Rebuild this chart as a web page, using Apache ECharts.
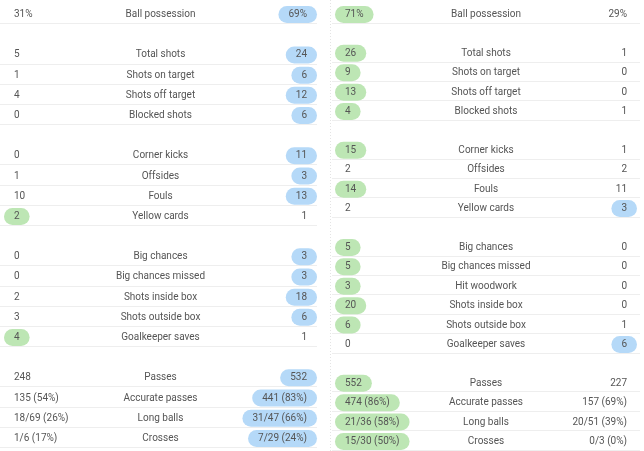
<!DOCTYPE html>
<html><head><meta charset="utf-8">
<script src="https://cdn.jsdelivr.net/npm/echarts@6/dist/echarts.min.js"></script>
<style>html,body{margin:0;padding:0;background:#fff}#c{width:644px;height:451px}</style>
</head><body><div id="c"></div>
<script>
// ---- Left match ----
const leftStats = ['Ball possession','','Total shots','Shots on target','Shots off target','Blocked shots','',
  'Corner kicks','Offsides','Fouls','Yellow cards','',
  'Big chances','Big chances missed','Shots inside box','Shots outside box','Goalkeeper saves','',
  'Passes','Accurate passes','Long balls','Crosses'];
const leftHome = ['31%','','5','1','4','0','','0','1','10','2','','0','0','2','3','4','','248','135 (54%)','18/69 (26%)','1/6 (17%)'];
const leftAway = ['69%','','24','6','12','6','','11','3','13','1','','3','3','18','6','1','','532','441 (83%)','31/47 (66%)','7/29 (24%)'];

// ---- Right match ----
const rightStats = ['Ball possession','','Total shots','Shots on target','Shots off target','Blocked shots','',
  'Corner kicks','Offsides','Fouls','Yellow cards','',
  'Big chances','Big chances missed','Hit woodwork','Shots inside box','Shots outside box','Goalkeeper saves','',
  'Passes','Accurate passes','Long balls','Crosses'];
const rightHome = ['71%','','26','9','13','4','','15','2','14','2','','5','5','3','20','6','0','','552','474 (86%)','21/36 (58%)','15/30 (50%)'];
const rightAway = ['29%','','1','0','0','1','','1','2','11','3','','0','0','0','0','1','6','','227','157 (69%)','20/51 (39%)','0/3 (0%)'];

const columns = ['home','stat','away'];

const FONT = '10px Roboto';
const TXT = '#555';
const GREEN = '#bde6b4';
const BLUE = '#b5d9f8';
const DY = 1.5;

function rowsOf(stats){ const d=[]; stats.forEach((s,i)=>{ if(s) d.push([0,i]); }); return d; }

function makeRender(stats, home, away, lineL, lineR){
  return function(params, api){
    const r = api.value(1);
    const pH = api.coord([0, r]), pM = api.coord([1, r]), pA = api.coord([2, r]);
    const band = api.size([0, 1])[1];
    const hv = parseFloat(home[r]), av = parseFloat(away[r]);
    const ly = Math.round(pH[1] + band/2) + 0.5;
    const pill = {padding:[3,10,2,10], borderRadius:8.5, lineHeight:12};
    return {type:'group', children:[
      {type:'line', shape:{x1:pH[0]-lineL, y1:ly, x2:pA[0]+lineR, y2:ly}, style:{stroke:'#eeeeee', lineWidth:1}},
      {type:'text', x:pH[0]-10, y:pH[1]+DY, style:Object.assign({text:home[r], align:'left', verticalAlign:'middle', font:FONT, fill:TXT,
        backgroundColor: hv>av ? GREEN : 'rgba(0,0,0,0)'}, pill)},
      {type:'text', x:pM[0], y:pM[1]+DY, style:{text:stats[r], align:'center', verticalAlign:'middle', font:FONT, fill:TXT}},
      {type:'text', x:pA[0]+10, y:pA[1]+DY, style:Object.assign({text:away[r], align:'right', verticalAlign:'middle', font:FONT, fill:TXT,
        backgroundColor: av>hv ? BLUE : 'rgba(0,0,0,0)'}, pill)}
    ]};
  };
}

const chart = echarts.init(document.getElementById('c'), null, {renderer:'canvas'});
const hiddenCat = (data, idx) => ({type:'category', gridIndex:idx, data:data, boundaryGap:false, show:false});
chart.setOption({
  animation:false,
  backgroundColor:'#fff',
  grid:[
    {left:14, right:337, top:3, height:444},
    {left:345, right:17, top:3.3, height:446.4}
  ],
  xAxis:[hiddenCat(columns,0), hiddenCat(columns,1)],
  yAxis:[
    {type:'category', gridIndex:0, data:leftStats.map((s,i)=>s||('_'+i)), inverse:true, show:false},
    {type:'category', gridIndex:1, data:rightStats.map((s,i)=>s||('_'+i)), inverse:true, show:false}
  ],
  graphic:[{type:'line', shape:{x1:330.5, y1:0, x2:330.5, y2:451}, style:{stroke:'#e4e4e4', lineWidth:1, lineDash:[1,2]}}],
  series:[
    {type:'custom', xAxisIndex:0, yAxisIndex:0, clip:false, data:rowsOf(leftStats), renderItem:makeRender(leftStats,leftHome,leftAway,14,10)},
    {type:'custom', xAxisIndex:1, yAxisIndex:1, clip:false, data:rowsOf(rightStats), renderItem:makeRender(rightStats,rightHome,rightAway,13,13)}
  ]
});
</script></body></html>
